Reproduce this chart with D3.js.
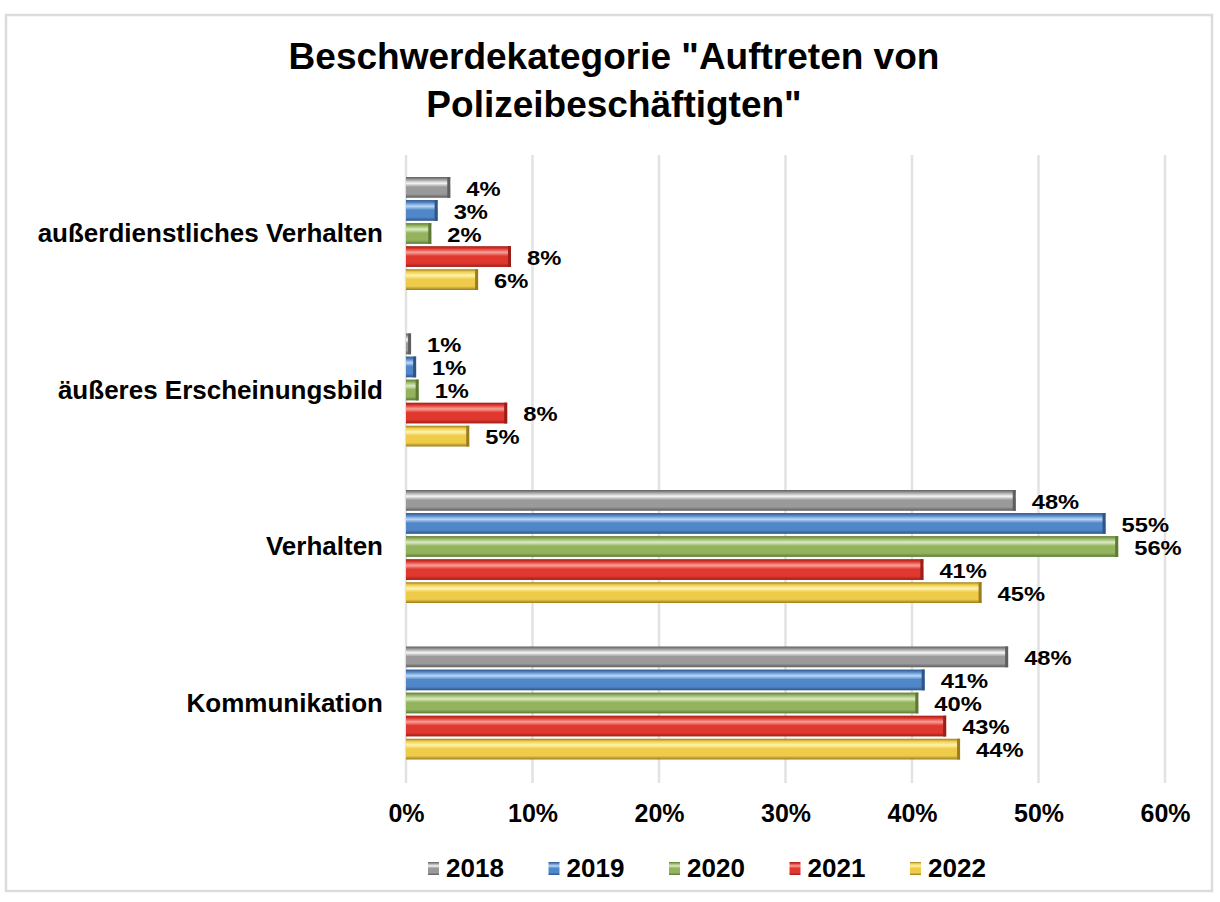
<!DOCTYPE html>
<html>
<head>
<meta charset="utf-8">
<script src="https://cdn.jsdelivr.net/npm/d3@7"></script>
<style>
	body { margin: 0; background: #fff; }
	svg text { font-family: "Liberation Sans", Arial, sans-serif; font-weight: bold; fill: #000; }
</style>
</head>
<body>
<svg id="chart" width="1220" height="902"></svg>
<script>
// categories, top to bottom
const categories = ["außerdienstliches Verhalten", "äußeres Erscheinungsbild", "Verhalten", "Kommunikation"];
const years = ["2018", "2019", "2020", "2021", "2022"];

// values per year, in the same order as categories
const v2018 = [0.035, 0.004, 0.482, 0.476];
const v2019 = [0.025, 0.008, 0.553, 0.41];
const v2020 = [0.02, 0.01, 0.563, 0.405];
const v2021 = [0.083, 0.08, 0.409, 0.427];
const v2022 = [0.057, 0.05, 0.455, 0.438];

const valueLabels = [
	["4%", "1%", "48%", "48%"],
	["3%", "1%", "55%", "41%"],
	["2%", "1%", "56%", "40%"],
	["8%", "8%", "41%", "43%"],
	["6%", "5%", "45%", "44%"],
];
const tickValues = [0, 0.1, 0.2, 0.3, 0.4, 0.5, 0.6];
const titleLines = ["Beschwerdekategorie \"Auftreten von", "Polizeibeschäftigten\""];

const series = [v2018, v2019, v2020, v2021, v2022];

// bevel colours: [highlight, base, dark]
const palette = {
	"2018": ["#f6f6f6", "#9a9a9a", "#5e5e5e"],
	"2019": ["#bcd6f6", "#5087c8", "#2f5587"],
	"2020": ["#dcebc2", "#93b35e", "#5c7a35"],
	"2021": ["#f7a099", "#e0372e", "#9c1e18"],
	"2022": ["#fff4ac", "#efcb4a", "#9b7d1c"],
};

const svg = d3.select("#chart");

// frame
svg.append("rect")
	.attr("x", 6).attr("y", 15).attr("width", 1206).attr("height", 876)
	.attr("fill", "#fff").attr("stroke", "#dcdcdc").attr("stroke-width", 2.5);

const x = d3.scaleLinear().domain([0, 0.6]).range([406, 1165]);
const y = d3.scaleBand().domain(categories).range([155, 781]);
const yInner = d3.scaleBand().domain(years).range([22, 135]).paddingInner(0.1);

// gradients
const defs = svg.append("defs");
years.forEach(yr => {
	const c = palette[yr];
	const g = defs.append("linearGradient").attr("id", "g" + yr)
		.attr("x1", 0).attr("y1", 0).attr("x2", 0).attr("y2", 1);
	g.append("stop").attr("offset", "0%").attr("stop-color", c[2]);
	g.append("stop").attr("offset", "12%").attr("stop-color", c[1]);
	g.append("stop").attr("offset", "30%").attr("stop-color", c[0]);
	g.append("stop").attr("offset", "48%").attr("stop-color", c[1]);
	g.append("stop").attr("offset", "82%").attr("stop-color", c[1]);
	g.append("stop").attr("offset", "100%").attr("stop-color", c[2]);
});

// title
svg.append("g").selectAll("text")
	.data(titleLines)
	.join("text")
	.attr("x", 614)
	.attr("y", (d, i) => 69 + i * 48)
	.attr("text-anchor", "middle")
	.style("font-size", "37px")
	.text(d => d);

// gridlines
svg.append("g").selectAll("line")
	.data(tickValues)
	.join("line")
	.attr("x1", d => x(d)).attr("x2", d => x(d))
	.attr("y1", 155).attr("y2", 783)
	.attr("stroke", "#e2e2e2").attr("stroke-width", 2.5);

// x axis labels
const xAxis = d3.axisBottom(x).tickValues(tickValues).tickFormat(d3.format(".0%")).tickSize(0).tickPadding(0);
const gx = svg.append("g").attr("transform", "translate(0,813)").call(xAxis);
gx.select(".domain").remove();
gx.selectAll("text").attr("dy", "0.35em").style("font-size", "25px").attr("font-family", null);

// y axis labels
const yAxis = d3.axisLeft(y).tickSize(0).tickPadding(0);
const gy = svg.append("g").attr("transform", "translate(383,0)").call(yAxis);
gy.select(".domain").remove();
gy.selectAll("text").attr("dy", "0.35em").style("font-size", "26px").attr("font-family", null);

// bars
const bars = svg.append("g");
series.forEach((vals, si) => {
	const yr = years[si];
	const c = palette[yr];
	const grp = bars.append("g").attr("class", "s" + yr);
	grp.selectAll("rect.bar")
		.data(vals)
		.join("rect")
		.attr("class", "bar")
		.attr("x", x(0))
		.attr("y", (d, i) => y(categories[i]) + yInner(yr))
		.attr("width", d => x(d) - x(0))
		.attr("height", yInner.bandwidth())
		.attr("fill", `url(#g${yr})`);
	// right bevel edge
	grp.selectAll("rect.edge")
		.data(vals)
		.join("rect")
		.attr("class", "edge")
		.attr("x", d => Math.max(x(0), x(d) - 3))
		.attr("y", (d, i) => y(categories[i]) + yInner(yr))
		.attr("width", d => Math.min(3, x(d) - x(0)))
		.attr("height", yInner.bandwidth())
		.attr("fill", c[2]);
	// value labels, a little wider than the font like the original
	grp.selectAll("text")
		.data(vals)
		.join("text")
		.attr("transform", (d, i) => {
			const ty = y(categories[i]) + yInner(yr) + yInner.bandwidth() / 2 + 1;
			return `translate(${x(d) + 16},${ty}) scale(1.13,1)`;
		})
		.attr("dy", "0.35em")
		.style("font-size", "21px")
		.text((d, i) => valueLabels[si][i]);
});

// legend
const legend = svg.append("g").attr("transform", "translate(428,868)");
const item = legend.selectAll("g")
	.data(years)
	.join("g")
	.attr("transform", (d, i) => `translate(${i * 120.5},0)`);
item.append("rect")
	.attr("x", 0).attr("y", -6).attr("width", 11).attr("height", 13)
	.attr("fill", d => `url(#g${d})`);
item.append("text")
	.attr("x", 18).attr("dy", "0.35em")
	.style("font-size", "26px")
	.text(d => d);
</script>
</body>
</html>
